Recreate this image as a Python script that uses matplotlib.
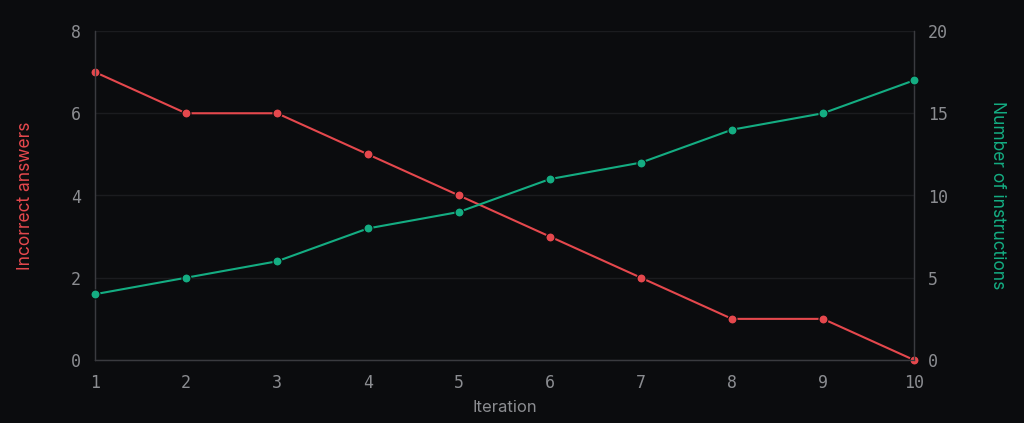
import matplotlib.pyplot as plt

iterations = [1, 2, 3, 4, 5, 6, 7, 8, 9, 10]
incorrect = [7, 6, 6, 5, 4, 3, 2, 1, 1, 0]
instructions = [4, 5, 6, 8, 9, 11, 12, 14, 15, 17]

BG = "#0b0c0e"
RED = "#e5484d"
GREEN = "#14ad82"
TICK = "#8b8d91"
SPINE = "#3a3b3f"
GRID = "#1b1c1f"

fig = plt.figure(figsize=(10.24, 4.23), dpi=100, facecolor=BG)
ax = fig.add_axes([95 / 1024, 63 / 423, 819 / 1024, 329 / 423])
ax.set_facecolor(BG)
ax2 = ax.twinx()

ax.plot(iterations, incorrect, color=RED, linewidth=1.5, marker="o", markersize=6.5,
        markeredgecolor=BG, markeredgewidth=0.8, zorder=3, clip_on=False)
ax2.plot(iterations, instructions, color=GREEN, linewidth=1.5, marker="o", markersize=6.5,
         markeredgecolor=BG, markeredgewidth=0.8, zorder=3, clip_on=False)

ax.set_xlim(1, 10)
ax.set_ylim(0, 8)
ax2.set_ylim(0, 20)
ax.set_xticks(iterations)
ax.set_yticks([0, 2, 4, 6, 8])
ax2.set_yticks([0, 5, 10, 15, 20])
ax.grid(axis="y", color=GRID, linewidth=1)

for a in (ax, ax2):
    for side, sp in a.spines.items():
        sp.set_color(SPINE)
        sp.set_linewidth(0.9)
    a.spines["top"].set_visible(False)
    a.tick_params(length=0, colors=TICK, labelsize=12, pad=10)
    for lbl in a.get_xticklabels() + a.get_yticklabels():
        lbl.set_family("DejaVu Sans Mono")

ax.set_xlabel("Iteration", color=TICK, fontsize=12, family="Inter", labelpad=6)
ax.set_ylabel("Incorrect answers", color=RED, fontsize=12.5, family="Inter", labelpad=27)
ax2.set_ylabel("Number of instructions", color=GREEN, fontsize=12.5, family="Inter",
               rotation=270, labelpad=42)

fig.savefig("out.png", dpi=100, facecolor=BG)
plt.close(fig)
